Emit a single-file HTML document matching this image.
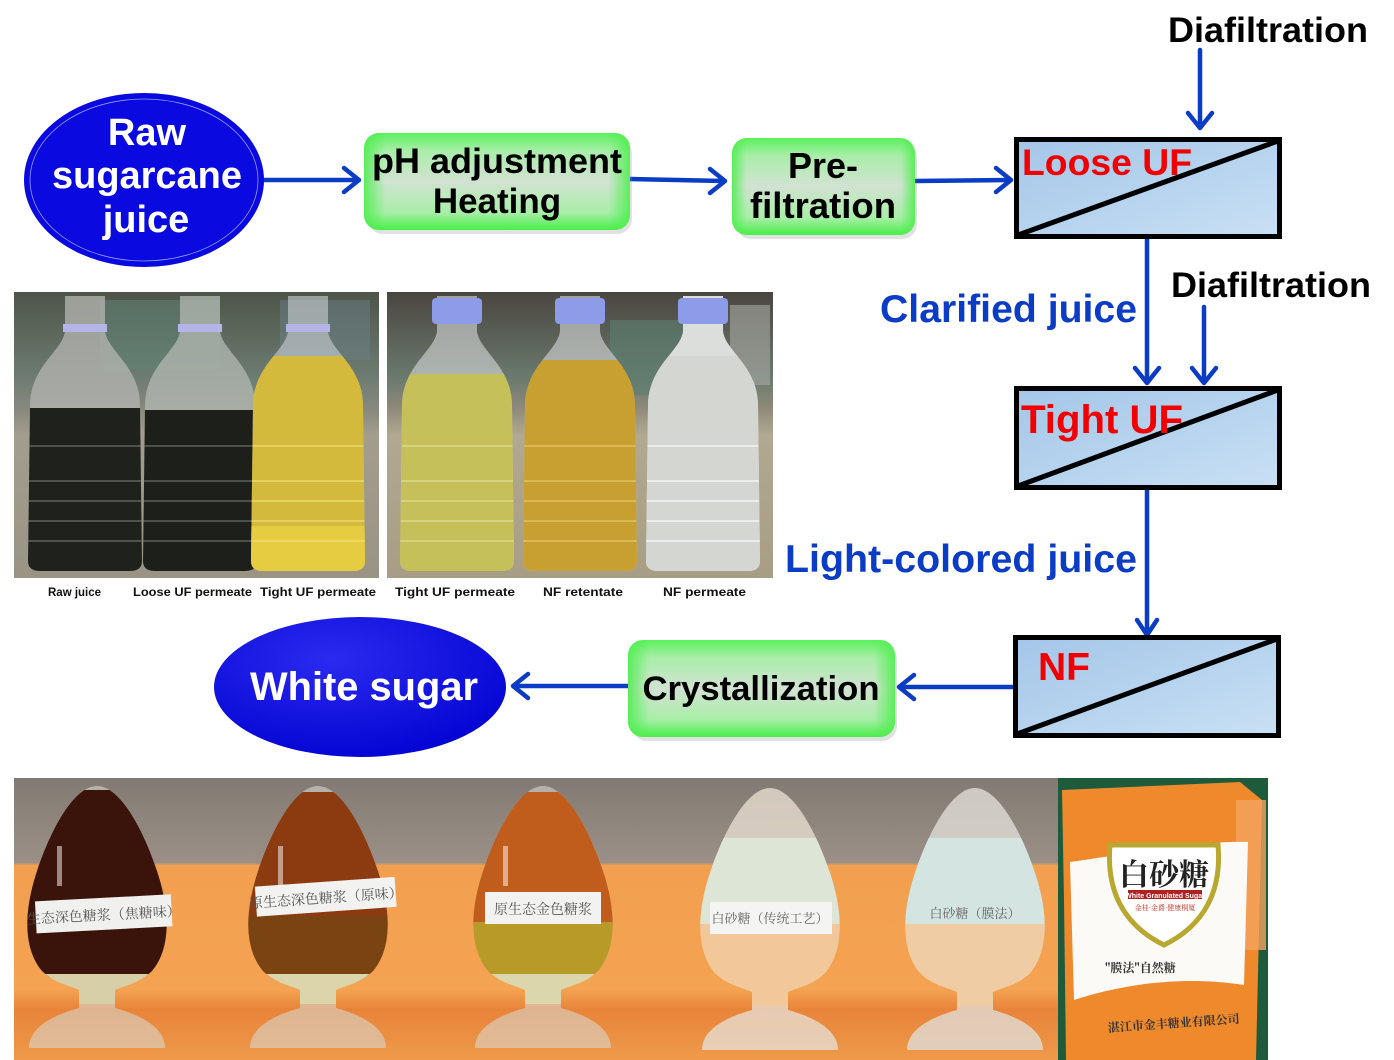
<!DOCTYPE html>
<html><head><meta charset="utf-8"><style>
html,body{margin:0;padding:0;background:#fff;width:1394px;height:1060px;overflow:hidden}
svg{display:block}
.t{font-family:"Liberation Sans","Noto Sans CJK SC",sans-serif;font-weight:bold}
.cjk{font-family:"Noto Serif CJK SC","Noto Sans CJK SC",serif}
</style></head><body>
<svg width="1394" height="1060" viewBox="0 0 1394 1060" xmlns="http://www.w3.org/2000/svg">
<defs>
  <linearGradient id="gbox" x1="0" y1="0" x2="0" y2="1">
    <stop offset="0" stop-color="#5af05a"/>
    <stop offset="0.18" stop-color="#a8eea8"/>
    <stop offset="0.5" stop-color="#d2e2d2"/>
    <stop offset="0.82" stop-color="#a8eea8"/>
    <stop offset="1" stop-color="#48ee48"/>
  </linearGradient>
  <linearGradient id="gside" x1="0" y1="0" x2="1" y2="0">
    <stop offset="0" stop-color="#50ee50" stop-opacity="0.9"/>
    <stop offset="0.08" stop-color="#50ee50" stop-opacity="0"/>
    <stop offset="0.92" stop-color="#50ee50" stop-opacity="0"/>
    <stop offset="1" stop-color="#50ee50" stop-opacity="0.9"/>
  </linearGradient>
  <linearGradient id="mem" x1="0" y1="0" x2="1" y2="1">
    <stop offset="0" stop-color="#a4c6e8"/>
    <stop offset="1" stop-color="#c8e0f4"/>
  </linearGradient>
  <radialGradient id="ws" cx="0.4" cy="0.3" r="0.7">
    <stop offset="0" stop-color="#2a2af0"/>
    <stop offset="1" stop-color="#0606d4"/>
  </radialGradient>
  <linearGradient id="p1bg" x1="0" y1="0" x2="0" y2="1">
    <stop offset="0" stop-color="#4e5548"/>
    <stop offset="0.3" stop-color="#6d7c72"/>
    <stop offset="0.42" stop-color="#8a8a7e"/>
    <stop offset="0.5" stop-color="#a39d8e"/>
    <stop offset="1" stop-color="#9a9484"/>
  </linearGradient>
  <linearGradient id="p2bg" x1="0" y1="0" x2="0" y2="1">
    <stop offset="0" stop-color="#4a4640"/>
    <stop offset="0.3" stop-color="#6a7a6e"/>
    <stop offset="0.4" stop-color="#8c8878"/>
    <stop offset="0.5" stop-color="#b0a890"/>
    <stop offset="1" stop-color="#a89e86"/>
  </linearGradient>
  <linearGradient id="p3bg" x1="0" y1="0" x2="0" y2="1">
    <stop offset="0" stop-color="#827a72"/>
    <stop offset="0.3" stop-color="#9a9088"/>
    <stop offset="0.31" stop-color="#f2a050"/>
    <stop offset="0.75" stop-color="#f4a352"/>
    <stop offset="0.82" stop-color="#e8843a"/>
    <stop offset="1" stop-color="#ee9a4a"/>
  </linearGradient>
  <clipPath id="bot" clipPathUnits="userSpaceOnUse">
    <path d="M-20,0 L-20,35 C-22,55 -55,70 -55,110 L-57,265 Q-57,275 -45,275 L45,275 Q57,275 57,265 L55,110 C55,70 22,55 20,35 L20,0 Z"/>
  </clipPath>
  <clipPath id="fl" clipPathUnits="userSpaceOnUse">
    <path d="M0,0 C-22,0 -45,40 -60,85 C-75,130 -72,165 -55,185 C-42,198 -25,200 -18,204 L-18,222 C-40,228 -68,240 -68,262 L68,262 C68,240 40,228 18,222 L18,204 C25,200 42,198 55,185 C72,165 75,130 60,85 C45,40 22,0 0,0 Z"/>
  </clipPath>
</defs>

<!-- ===== Flow diagram ===== -->
<g stroke="#0b3cc6" stroke-width="4.5" fill="none" stroke-linecap="round" stroke-linejoin="round">
  <line x1="264" y1="180" x2="358" y2="180"/><polyline points="344,168 359,180 344,192"/>
  <line x1="630" y1="179" x2="724" y2="181"/><polyline points="710,169 725,181 710,193"/>
  <line x1="916" y1="181" x2="1010" y2="180"/><polyline points="996,168 1011,180 996,192"/>
  <line x1="1200" y1="50" x2="1200" y2="127"/><polyline points="1188,113 1200,128 1212,113"/>
  <line x1="1147" y1="239" x2="1147" y2="382"/><polyline points="1135,368 1147,383 1159,368"/>
  <line x1="1204" y1="307" x2="1204" y2="382"/><polyline points="1192,368 1204,383 1216,368"/>
  <line x1="1147" y1="490" x2="1147" y2="634"/><polyline points="1137,620 1147,635 1157,620"/>
  <line x1="1012" y1="687" x2="900" y2="687"/><polyline points="914,675 899,687 914,699"/>
  <line x1="628" y1="686" x2="514" y2="686"/><polyline points="528,674 513,686 528,698"/>
</g>

<!-- Raw sugarcane juice ellipse -->
<ellipse cx="144" cy="180" rx="120" ry="87" fill="#0a0ae0"/>
<ellipse cx="144" cy="180" rx="114" ry="81" fill="none" stroke="#9a9af4" stroke-width="0.8"/>
<text class="t" x="147" y="145" font-size="38" fill="#fff" text-anchor="middle">Raw</text>
<text class="t" x="147" y="188" font-size="38" fill="#fff" text-anchor="middle" textLength="190" lengthAdjust="spacingAndGlyphs">sugarcane</text>
<text class="t" x="146" y="232" font-size="38" fill="#fff" text-anchor="middle">juice</text>

<!-- pH box -->
<rect x="366" y="135" width="264" height="96" rx="15" fill="#888" opacity="0.25" transform="translate(2,3)"/>
<rect x="364" y="133" width="266" height="97" rx="15" fill="url(#gbox)"/>
<rect x="364" y="133" width="266" height="97" rx="15" fill="url(#gside)"/>
<text class="t" x="497" y="173" font-size="35" fill="#000" text-anchor="middle" textLength="250" lengthAdjust="spacingAndGlyphs">pH adjustment</text>
<text class="t" x="497" y="213" font-size="35" fill="#000" text-anchor="middle">Heating</text>

<!-- Pre-filtration box -->
<rect x="734" y="140" width="181" height="96" rx="15" fill="#888" opacity="0.25" transform="translate(2,3)"/>
<rect x="732" y="138" width="183" height="97" rx="15" fill="url(#gbox)"/>
<rect x="732" y="138" width="183" height="97" rx="15" fill="url(#gside)"/>
<text class="t" x="823" y="178" font-size="36" fill="#000" text-anchor="middle">Pre-</text>
<text class="t" x="823" y="218" font-size="36" fill="#000" text-anchor="middle" textLength="146" lengthAdjust="spacingAndGlyphs">filtration</text>

<!-- Diafiltration labels -->
<text class="t" x="1168" y="42" font-size="35" fill="#000" textLength="200" lengthAdjust="spacingAndGlyphs">Diafiltration</text>
<text class="t" x="1171" y="297" font-size="35" fill="#000" textLength="200" lengthAdjust="spacingAndGlyphs">Diafiltration</text>

<!-- Loose UF -->
<rect x="1016.5" y="139.5" width="263" height="97" fill="url(#mem)" stroke="#000" stroke-width="5"/>
<line x1="1018" y1="235" x2="1278" y2="141" stroke="#000" stroke-width="5"/>
<text class="t" x="1022" y="175" font-size="37" fill="#f00000" textLength="170" lengthAdjust="spacingAndGlyphs">Loose UF</text>

<!-- Clarified juice -->
<text class="t" x="880" y="322" font-size="39" fill="#0b3cc6" textLength="257" lengthAdjust="spacingAndGlyphs">Clarified juice</text>

<!-- Tight UF -->
<rect x="1016.5" y="388.5" width="263" height="99" fill="url(#mem)" stroke="#000" stroke-width="5"/>
<line x1="1018" y1="486" x2="1278" y2="390" stroke="#000" stroke-width="5"/>
<text class="t" x="1021" y="433" font-size="40" fill="#f00000" textLength="162" lengthAdjust="spacingAndGlyphs">Tight UF</text>

<!-- Light-colored juice -->
<text class="t" x="785" y="572" font-size="39" fill="#0b3cc6" textLength="352" lengthAdjust="spacingAndGlyphs">Light-colored juice</text>

<!-- NF -->
<rect x="1015.5" y="637.5" width="263" height="98" fill="url(#mem)" stroke="#000" stroke-width="5"/>
<line x1="1017" y1="734" x2="1277" y2="639" stroke="#000" stroke-width="5"/>
<text class="t" x="1038" y="680" font-size="39" fill="#f00000" textLength="52" lengthAdjust="spacingAndGlyphs">NF</text>

<!-- Crystallization -->
<rect x="630" y="642" width="265" height="96" rx="15" fill="#888" opacity="0.25" transform="translate(2,3)"/>
<rect x="628" y="640" width="267" height="97" rx="15" fill="url(#gbox)"/>
<rect x="628" y="640" width="267" height="97" rx="15" fill="url(#gside)"/>
<text class="t" x="761" y="700" font-size="34" fill="#000" text-anchor="middle" textLength="237" lengthAdjust="spacingAndGlyphs">Crystallization</text>

<!-- White sugar -->
<ellipse cx="360" cy="687" rx="146" ry="70" fill="url(#ws)"/>
<text class="t" x="364" y="700" font-size="40" fill="#fff" text-anchor="middle" textLength="228" lengthAdjust="spacingAndGlyphs">White sugar</text>

<!-- ===== Photo 1 ===== -->
<rect x="14" y="292" width="365" height="286" fill="url(#p1bg)"/>
<rect x="100" y="300" width="120" height="70" fill="#5f8578" opacity="0.5"/>
<rect x="280" y="300" width="90" height="60" fill="#6a7f88" opacity="0.5"/>
<g transform="translate(85,296)">
  <g clip-path="url(#bot)">
    <rect x="-60" y="0" width="120" height="280" fill="#d6d8dc" opacity="0.55"/>
    <rect x="-60" y="0" width="120" height="115" fill="#a2a098" opacity="0.5"/>
    <rect x="-60" y="112" width="120" height="170" fill="#1e211c"/>
    <g stroke="#7a7e78" stroke-width="1.5" opacity="0.7"><line x1="-60" y1="150" x2="60" y2="150"/><line x1="-60" y1="185" x2="60" y2="185"/><line x1="-60" y1="205" x2="60" y2="205"/><line x1="-60" y1="225" x2="60" y2="225"/><line x1="-60" y1="245" x2="60" y2="245"/></g>
  </g>
  <rect x="-22" y="28" width="44" height="8" fill="#b4b4e6"/>
</g>
<g transform="translate(200,296)">
  <g clip-path="url(#bot)">
    <rect x="-60" y="0" width="120" height="280" fill="#d6d8dc" opacity="0.55"/>
    <rect x="-60" y="0" width="120" height="115" fill="#9ea49a" opacity="0.5"/>
    <rect x="-60" y="114" width="120" height="170" fill="#1c1f1a"/>
    <g stroke="#7a7e78" stroke-width="1.5" opacity="0.7"><line x1="-60" y1="150" x2="60" y2="150"/><line x1="-60" y1="185" x2="60" y2="185"/><line x1="-60" y1="205" x2="60" y2="205"/><line x1="-60" y1="225" x2="60" y2="225"/><line x1="-60" y1="245" x2="60" y2="245"/></g>
  </g>
  <rect x="-22" y="28" width="44" height="8" fill="#b4b4e6"/>
</g>
<g transform="translate(308,296)">
  <g clip-path="url(#bot)">
    <rect x="-60" y="0" width="120" height="280" fill="#d6d8dc" opacity="0.55"/>
    <rect x="-60" y="60" width="120" height="220" fill="#d4ba3c"/>
    <rect x="-60" y="230" width="120" height="50" fill="#e6cc40"/>
    <g stroke="#f2e27a" stroke-width="1.5" opacity="0.8"><line x1="-60" y1="150" x2="60" y2="150"/><line x1="-60" y1="185" x2="60" y2="185"/><line x1="-60" y1="205" x2="60" y2="205"/><line x1="-60" y1="225" x2="60" y2="225"/><line x1="-60" y1="245" x2="60" y2="245"/></g>
  </g>
  <rect x="-22" y="28" width="44" height="8" fill="#b4b4e6"/>
</g>
<g class="t" font-size="11.5" fill="#111">
  <text x="48" y="596">Raw juice</text>
  <text x="133" y="596" textLength="119" lengthAdjust="spacingAndGlyphs">Loose UF permeate</text>
  <text x="260" y="596" textLength="116" lengthAdjust="spacingAndGlyphs">Tight UF permeate</text>
  <text x="395" y="596" textLength="120" lengthAdjust="spacingAndGlyphs">Tight UF permeate</text>
  <text x="543" y="596" textLength="80" lengthAdjust="spacingAndGlyphs">NF retentate</text>
  <text x="663" y="596" textLength="83" lengthAdjust="spacingAndGlyphs">NF permeate</text>
</g>

<!-- ===== Photo 2 ===== -->
<rect x="387" y="292" width="386" height="286" fill="url(#p2bg)"/>
<rect x="610" y="320" width="100" height="75" fill="#5c7e70" opacity="0.6"/>
<rect x="730" y="305" width="40" height="80" fill="#a8a8a4" opacity="0.6"/>
<g transform="translate(457,296)">
  <g clip-path="url(#bot)">
    <rect x="-60" y="0" width="120" height="280" fill="#d8dadc" opacity="0.6"/>
    <rect x="-60" y="78" width="120" height="200" fill="#c6c05a"/>
    <g stroke="#e2de96" stroke-width="1.5" opacity="0.8"><line x1="-60" y1="150" x2="60" y2="150"/><line x1="-60" y1="185" x2="60" y2="185"/><line x1="-60" y1="205" x2="60" y2="205"/><line x1="-60" y1="225" x2="60" y2="225"/><line x1="-60" y1="245" x2="60" y2="245"/></g>
  </g>
  <rect x="-25" y="2" width="50" height="26" rx="4" fill="#8c9ce8"/>
</g>
<g transform="translate(580,296)">
  <g clip-path="url(#bot)">
    <rect x="-60" y="0" width="120" height="280" fill="#d8dadc" opacity="0.6"/>
    <rect x="-60" y="64" width="120" height="215" fill="#c8a032"/>
    <g stroke="#e6c870" stroke-width="1.5" opacity="0.8"><line x1="-60" y1="150" x2="60" y2="150"/><line x1="-60" y1="185" x2="60" y2="185"/><line x1="-60" y1="205" x2="60" y2="205"/><line x1="-60" y1="225" x2="60" y2="225"/><line x1="-60" y1="245" x2="60" y2="245"/></g>
  </g>
  <rect x="-25" y="2" width="50" height="26" rx="4" fill="#8c9ce8"/>
</g>
<g transform="translate(703,296)">
  <g clip-path="url(#bot)">
    <rect x="-60" y="0" width="120" height="280" fill="#dcdedc"/>
    <rect x="-60" y="60" width="120" height="220" fill="#d4d6d2"/>
    <g stroke="#f4f4f4" stroke-width="1.5"><line x1="-60" y1="150" x2="60" y2="150"/><line x1="-60" y1="185" x2="60" y2="185"/><line x1="-60" y1="205" x2="60" y2="205"/><line x1="-60" y1="225" x2="60" y2="225"/><line x1="-60" y1="245" x2="60" y2="245"/></g>
  </g>
  <rect x="-25" y="2" width="50" height="26" rx="4" fill="#8c9ce8"/>
</g>

<!-- ===== Bottom photo ===== -->
<rect x="14" y="778" width="1044" height="282" fill="url(#p3bg)"/>
<!-- flask 1 -->
<g transform="translate(97,786)">
  <g clip-path="url(#fl)">
    <rect x="-80" y="0" width="160" height="270" fill="#d8d6cc" opacity="0.6"/>
    <rect x="-80" y="4" width="160" height="188" fill="#3a140a"/>
    <rect x="-80" y="188" width="160" height="30" fill="#d6cfa8"/>
    <rect x="-40" y="60" width="5" height="40" fill="#fff" opacity="0.5"/>
  </g>
  <rect x="-68" y="112" width="136" height="32" fill="#f0f0ee" transform="rotate(-3)"/>
  <text class="cjk" x="0" y="134" font-size="14" fill="#555" text-anchor="middle" transform="rotate(-3)">生态深色糖浆（焦糖味）</text>
</g>
<!-- flask 2 -->
<g transform="translate(318,786)">
  <g clip-path="url(#fl)">
    <rect x="-80" y="0" width="160" height="270" fill="#d8d6cc" opacity="0.6"/>
    <rect x="-80" y="6" width="160" height="190" fill="#8c3a10"/>
    <rect x="-80" y="130" width="160" height="60" fill="#7a4412"/>
    <rect x="-80" y="188" width="160" height="30" fill="#dcd4aa"/>
    <rect x="-40" y="60" width="5" height="40" fill="#fff" opacity="0.5"/>
  </g>
  <rect x="-70" y="96" width="140" height="30" fill="#f2f2f0" transform="rotate(-4)"/>
  <text class="cjk" x="0" y="117" font-size="14" fill="#555" text-anchor="middle" transform="rotate(-4)">原生态深色糖浆（原味）</text>
</g>
<!-- flask 3 -->
<g transform="translate(543,786)">
  <g clip-path="url(#fl)">
    <rect x="-80" y="0" width="160" height="270" fill="#d8d6cc" opacity="0.6"/>
    <rect x="-80" y="6" width="160" height="134" fill="#c05c1c"/>
    <rect x="-80" y="136" width="160" height="56" fill="#b89a28"/>
    <rect x="-80" y="188" width="160" height="30" fill="#dcd6ac"/>
    <rect x="-40" y="60" width="5" height="40" fill="#fff" opacity="0.5"/>
  </g>
  <rect x="-58" y="106" width="116" height="32" fill="#f2f2f0"/>
  <text class="cjk" x="0" y="128" font-size="14" fill="#555" text-anchor="middle">原生态金色糖浆</text>
</g>
<!-- flask 4 -->
<g transform="translate(770,788)">
  <g clip-path="url(#fl)">
    <rect x="-80" y="0" width="160" height="270" fill="#e6dcd0" opacity="0.8"/>
    <rect x="-80" y="50" width="160" height="86" fill="#dde6d6"/>
    <rect x="-80" y="136" width="160" height="82" fill="#f2c89a"/>
  </g>
  <rect x="-60" y="114" width="122" height="32" fill="#f4f4f2"/>
  <text class="cjk" x="0" y="135" font-size="13" fill="#666" text-anchor="middle">白砂糖（传统工艺）</text>
</g>
<!-- flask 5 -->
<g transform="translate(975,788)">
  <g clip-path="url(#fl)">
    <rect x="-80" y="0" width="160" height="270" fill="#e0dcd4" opacity="0.8"/>
    <rect x="-80" y="50" width="160" height="86" fill="#d4e4e0"/>
    <rect x="-80" y="136" width="160" height="82" fill="#f0cca4"/>
  </g>
  <text class="cjk" x="0" y="130" font-size="13" fill="#666" text-anchor="middle">白砂糖（膜法）</text>
</g>

<!-- bag -->
<rect x="1058" y="778" width="210" height="282" fill="#1e5a3c"/>
<path d="M1062,790 L1240,782 L1262,800 L1256,1060 L1066,1060 L1064,900 Z" fill="#ee8a2c"/>
<rect x="1236" y="800" width="30" height="150" fill="#f2a460" opacity="0.8"/>
<path d="M1070,862 C1120,855 1200,840 1248,842 L1244,985 C1180,975 1120,985 1074,1000 Z" fill="#fbfaf6"/>
<path d="M1110,845 L1218,845 C1222,890 1205,925 1164,945 C1123,925 1106,890 1110,845 Z" fill="#fff" stroke="#b8a830" stroke-width="5"/>
<text class="cjk" x="1164" y="885" font-size="30" font-weight="bold" fill="#222" text-anchor="middle">白砂糖</text>
<rect x="1128" y="890" width="74" height="9" fill="#b02020"/>
<text class="t" x="1165" y="898" font-size="7" fill="#fff" text-anchor="middle">White Granulated Sugar</text>
<text class="cjk" x="1165" y="910" font-size="7" fill="#c03020" text-anchor="middle">金桂·金爵·健康桐厦</text>
<text class="cjk" x="1105" y="972" font-size="12" font-weight="bold" fill="#333">"膜法"自然糖</text>
<text class="cjk" x="1108" y="1028" font-size="12" font-weight="bold" fill="#333" transform="rotate(-4 1165 1028)">湛江市金丰糖业有限公司</text>
</svg>
</body></html>
